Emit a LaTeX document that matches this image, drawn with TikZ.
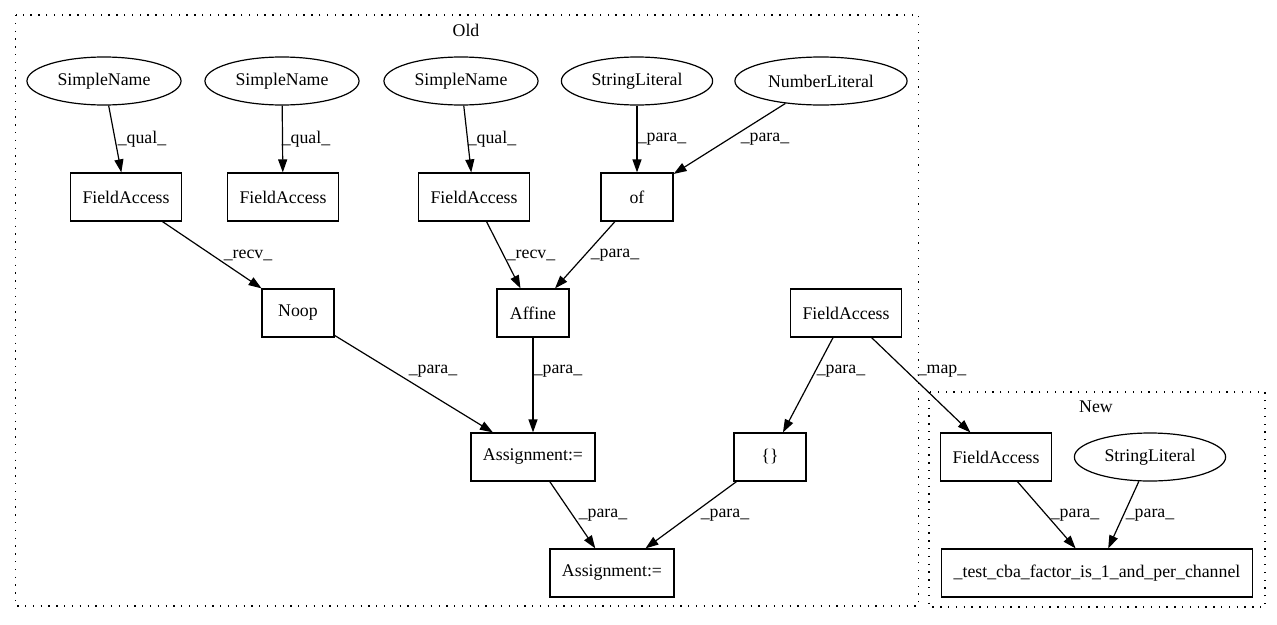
\documentclass[tikz,border=0pt]{standalone}
\usepackage{fontspec}
\setmainfont{Liberation Serif}
\usetikzlibrary{arrows.meta,shapes.geometric}

\begin{document}
\begin{tikzpicture}[x=1pt,y=-1pt,
	font=\fontsize{17.8}{20}\selectfont,
	box/.style={draw, rectangle, line width=1.2pt, minimum width=72pt, minimum height=48pt, inner xsep=12pt},
	oval/.style={draw, ellipse, line width=1.2pt, minimum height=48pt, minimum width=#1, inner xsep=8pt},
	oval/.default=154pt,
	edge/.style={-{Triangle[length=13pt,width=9pt]}, line width=1.2pt},
	lbl/.style={inner sep=0pt},
	cluster/.style={line width=1.2pt, dash pattern=on 1.3pt off 6.5pt}]
				\useasboundingbox (0,0) rectangle (1277,624);
				
				% the two clusters
				\draw[cluster] (15.5,15) rectangle (918.5,606);
				\node (oldlbl) at (466,30) {Old};
				\draw[cluster] (929,392) rectangle (1265,607);
				\node (newlbl) at (1096,407) {New};
				
				% Old
				\node[oval] (sn1) at (104,81) {SimpleName};
				\node[oval] (sn2) at (282,81) {SimpleName};
				\node[oval] (sn3) at (461,81) {SimpleName};
				\node[oval=150pt] (sl1) at (637,81) {StringLiteral};
				\node[oval=171pt] (nl) at (821,81) {NumberLiteral};
				
				\node[box] (fa1) at (126,197) {FieldAccess};
				\node[box] (fa2) at (283,197) {FieldAccess};
				\node[box] (fa3) at (474,197) {FieldAccess};
				\node[box] (of) at (637,197) {of};
				
				\node[box] (noop) at (298,313) {Noop};
				\node[box] (affine) at (533,313) {Affine};
				\node[box] (fa4) at (846,313) {FieldAccess};
				
				\node[box] (asg1) at (533,457) {Assignment:=};
				\node[box] (brace) at (770,457) {\{\}};
				\node[box] (asg2) at (612,573) {Assignment:=};
				
				% New
				\node[box] (fa5) at (996,457) {FieldAccess};
				\node[oval=150pt] (sl2) at (1150,457) {StringLiteral};
				\node[box] (test) at (1097,573) {\_test\_cba\_factor\_is\_1\_and\_per\_channel};
				
				% edges
				\draw[edge] (sn1) -- (fa1) node[lbl] at (142,139) {\_qual\_};
				\draw[edge] (sn2) -- (fa2) node[lbl] at (306,139) {\_qual\_};
				\draw[edge] (sn3) -- (fa3) node[lbl] at (492,139) {\_qual\_};
				\draw[edge] (sl1) -- (of) node[lbl] at (662,139) {\_para\_};
				\draw[edge] (nl) -- (of) node[lbl] at (765,139) {\_para\_};
				\draw[edge] (fa1) -- (noop) node[lbl] at (248,255) {\_recv\_};
				\draw[edge] (fa3) -- (affine) node[lbl] at (531,255) {\_recv\_};
				\draw[edge] (of) -- (affine) node[lbl] at (615,255) {\_para\_};
				\draw[edge] (noop) -- (asg1) node[lbl] at (433,371) {\_para\_};
				\draw[edge] (affine) -- (asg1) node[lbl] at (558,371) {\_para\_};
				\draw[edge] (fa4) -- (brace) node[lbl] at (841,371) {\_para\_};
				\draw[edge] (fa4) -- (fa5) node[lbl] at (942,371) {\_map\_};
				\draw[edge] (asg1) -- (asg2) node[lbl] at (603,515) {\_para\_};
				\draw[edge] (brace) -- (asg2) node[lbl] at (725,515) {\_para\_};
				\draw[edge] (fa5) -- (test) node[lbl] at (1075,515) {\_para\_};
				\draw[edge] (sl2) -- (test) node[lbl] at (1150,515) {\_para\_};
				
			\end{tikzpicture}
\end{document}
